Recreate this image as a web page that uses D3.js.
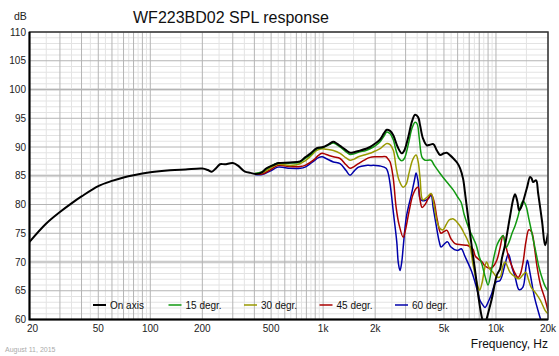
<!DOCTYPE html>
<html><head><meta charset="utf-8">
<script src="https://cdn.jsdelivr.net/npm/d3@7"></script>
<style>body{margin:0;background:#fff}svg{display:block;font-family:Arial,"Liberation Sans",sans-serif}</style>
</head><body><svg id="c" width="559" height="356"></svg>
<script>
const title = "WF223BD02 SPL response";
const seriesNames = ["On axis","15 degr.","30 degr.","45 degr.","60 degr."];
const seriesColors = ["#000000","#119911","#999900","#aa0000","#0000aa"];
const yTicks = [60,65,70,75,80,85,90,95,100,105,110];
const xTickVals = [20,50,100,200,500,1000,2000,5000,10000,20000];
const xTickLabels = ["20","50","100","200","500","1k","2k","5k","10k","20k"];

const onAxis = [[20,73.5],[25,76.7],[30,78.7],[35,80.2],[40,81.4],[50,83.2],[60,84.1],[70,84.7],[80,85.1],[100,85.6],[130,85.95],[160,86.1],[200,86.25],[215,86.0],[227,85.7],[240,86.3],[253,87.0],[270,87.0],[300,87.2],[320,86.8],[353,85.7],[380,85.5],[410,85.3],[443,85.6],[470,86.3],[520,86.9],[550,87.2],[644,87.3],[735,87.5],[786,88.2],[840,88.8],[919,89.8],[1000,90.0],[1080,90.5],[1146,90.9],[1200,90.6],[1253,90.2],[1350,89.5],[1431,89.0],[1510,89.1],[1600,89.3],[1770,89.7],[1869,90.0],[2000,90.6],[2135,91.3],[2250,92.4],[2335,93.0],[2440,92.8],[2549,92.0],[2700,90.0],[2851,88.9],[2950,89.4],[3112,91.8],[3270,94.5],[3404,95.6],[3544,95.2],[3637,93.8],[3780,91.5],[3978,90.3],[4150,90.4],[4343,90.5],[4550,89.4],[4750,88.6],[5000,88.9],[5194,89.0],[5450,88.5],[5670,88.0],[5950,87.3],[6200,86.3],[6450,84.5],[6628,81.9],[6850,78.5],[7085,74.9],[7330,71.5],[7573,68.5],[7914,64.0],[8280,60.4],[8600,58.6],[8850,60.2],[9460,63.6],[10110,67.7],[10564,68.8],[10800,70.5],[11290,73.0],[12070,78.0],[12600,81.0],[12900,81.8],[13300,80.5],[13610,79.0],[13980,79.5],[14355,80.5],[15140,83.0],[15760,84.8],[16100,84.5],[16400,83.9],[17070,84.2],[17530,82.0],[18490,77.0],[19250,72.9],[20000,75.0]];

const deg15 = [[403,85.4],[443,85.7],[493,86.6],[548,87.2],[644,87.2],[735,87.4],[786,88.0],[840,88.6],[919,89.7],[1000,89.9],[1080,90.4],[1146,90.7],[1253,90.0],[1350,89.2],[1431,88.7],[1510,88.8],[1600,89.1],[1770,89.4],[1869,89.7],[2000,90.2],[2135,90.9],[2250,91.9],[2335,92.6],[2440,92.3],[2549,91.2],[2642,89.4],[2750,88.0],[2851,87.6],[2950,88.0],[3112,90.5],[3270,93.3],[3404,94.3],[3500,94.0],[3600,91.5],[3736,88.2],[3889,87.7],[4048,87.7],[4213,87.7],[4400,86.8],[4750,85.4],[5194,83.9],[5670,82.5],[6000,81.3],[6282,80.4],[6538,78.3],[6804,76.7],[7085,75.3],[7373,74.2],[7674,73.0],[7987,71.0],[8312,69.5],[8650,67.5],[9003,66.0],[9370,68.3],[9752,71.0],[10150,73.0],[10564,74.0],[10990,74.6],[11440,72.5],[11910,73.5],[12390,75.0],[12900,76.3],[13430,78.0],[13980,80.0],[14355,80.6],[14900,79.8],[15500,77.5],[16400,74.0],[17070,71.5],[17760,69.0],[18490,67.2],[19240,65.8],[20000,65.0]];

const deg30 = [[403,85.4],[443,85.5],[493,86.3],[548,87.0],[644,86.8],[735,87.1],[786,87.6],[840,88.3],[919,89.4],[986,89.7],[1040,89.6],[1146,89.4],[1253,88.9],[1357,88.1],[1431,87.7],[1510,87.9],[1600,88.3],[1770,88.7],[1869,88.9],[2000,89.3],[2135,89.7],[2250,90.3],[2335,90.6],[2440,90.4],[2549,89.4],[2642,86.5],[2750,84.2],[2901,83.0],[3019,83.5],[3142,85.5],[3300,87.8],[3451,88.6],[3544,87.5],[3637,84.6],[3736,81.0],[3800,80.8],[4000,81.3],[4213,81.9],[4384,79.8],[4563,77.0],[4750,75.8],[4942,75.6],[5150,76.5],[5353,77.3],[5570,77.5],[5800,77.3],[6036,76.7],[6282,76.0],[6538,75.0],[6804,74.0],[7085,72.6],[7373,69.5],[7674,67.0],[7914,65.5],[8050,65.1],[8312,66.4],[8550,68.5],[8820,70.0],[9186,68.8],[9560,68.3],[10110,67.4],[10564,67.4],[10990,69.4],[11290,70.0],[12070,68.2],[12900,67.4],[13610,67.1],[14355,67.8],[14900,68.2],[15400,67.0],[16000,65.6],[17070,64.5],[18100,63.3],[19240,61.6],[20000,61.0]];

const deg45 = [[403,85.3],[443,85.3],[493,86.0],[548,86.8],[644,86.6],[735,86.6],[786,86.8],[886,87.8],[935,88.5],[986,88.9],[1040,88.7],[1146,88.3],[1253,88.0],[1357,86.9],[1431,86.3],[1510,86.6],[1600,87.1],[1772,87.9],[1869,88.2],[2000,88.3],[2135,88.3],[2313,88.3],[2375,87.9],[2440,87.4],[2539,84.8],[2642,79.6],[2750,76.5],[2906,74.3],[2990,75.5],[3142,78.8],[3300,81.6],[3450,82.8],[3544,83.0],[3637,80.8],[3736,79.5],[3889,80.0],[4213,81.8],[4384,80.5],[4563,77.5],[4800,75.0],[5000,75.3],[5200,75.5],[5500,74.0],[5800,73.2],[6300,73.0],[6800,72.9],[7100,72.6],[7373,72.2],[7600,71.0],[7987,70.4],[8312,70.0],[8650,69.3],[9186,68.9],[9560,69.1],[10110,70.3],[10564,72.5],[10990,74.6],[11440,72.6],[11900,70.6],[12390,69.2],[12900,68.0],[13430,67.3],[13800,67.8],[14355,70.0],[14900,73.5],[15500,75.6],[16100,75.2],[16700,72.5],[17300,69.1],[18100,66.0],[19240,63.5],[20000,61.5]];

const deg60 = [[403,85.2],[443,85.2],[493,85.8],[548,86.5],[644,86.3],[735,86.3],[786,86.5],[886,87.6],[935,88.1],[986,88.3],[1040,88.0],[1146,87.4],[1253,87.1],[1357,85.9],[1431,85.1],[1510,85.8],[1600,86.5],[1772,86.8],[1869,86.8],[2000,86.8],[2135,86.7],[2313,86.3],[2375,85.5],[2440,83.6],[2552,78.5],[2667,73.5],[2724,69.8],[2785,68.5],[2850,70.0],[2906,72.6],[3033,77.9],[3250,81.9],[3380,84.3],[3451,85.5],[3544,84.0],[3637,81.0],[3736,80.7],[3889,80.7],[4048,81.0],[4213,81.6],[4330,79.5],[4490,76.7],[4700,73.5],[4810,72.6],[5050,73.2],[5250,73.5],[5490,72.6],[5980,72.0],[6300,72.3],[6610,71.0],[7240,68.3],[7760,65.3],[8090,63.3],[8400,62.5],[8650,62.1],[9000,63.0],[9400,64.3],[10000,66.5],[10564,66.8],[11300,69.7],[11800,71.4],[12400,69.0],[12900,67.4],[13600,65.2],[14300,65.6],[14900,69.0],[15200,70.3],[15760,68.0],[16700,63.9],[17500,61.6],[18400,59.5],[19240,58.5],[20000,58.0]];

const allSeries = [onAxis, deg15, deg30, deg45, deg60];

const svg = d3.select("#c");
const L = 29.5, R = 548, T = 32, B = 319.5;
const x = d3.scaleLog().domain([20,20000]).range([L,R]);
const y = d3.scaleLinear().domain([60,110]).range([B,T]);

// grid
const g = svg.append("g");
const minorX = [], majorX = [];
[10,100,1000,10000].forEach(d=>{
  for(let m=1;m<=9;m++){ const v=m*d; if(v>=20&&v<=20000) majorX.push(v);
    const h=(m+0.5)*d; if(h>20&&h<20000) minorX.push(h);}
});
const minorY = d3.range(60,111,1).filter(v=>v%5!==0);
g.selectAll(".myl").data(minorY).join("line").attr("x1",L).attr("x2",R)
 .attr("y1",d=>y(d)).attr("y2",d=>y(d)).attr("stroke","#e3e3e3").attr("stroke-width",1);
g.selectAll(".mxl").data(minorX).join("line").attr("x1",d=>x(d)).attr("x2",d=>x(d))
 .attr("y1",T).attr("y2",B).attr("stroke","#e3e3e3").attr("stroke-width",1);
g.selectAll(".bands").data([70,85,100]).join("line").attr("x1",L).attr("x2",R)
 .attr("y1",d=>y(d)).attr("y2",d=>y(d)).attr("stroke","#e2e2e2").attr("stroke-width",3);
g.selectAll(".Myl").data(yTicks).join("line").attr("x1",L).attr("x2",R)
 .attr("y1",d=>y(d)).attr("y2",d=>y(d)).attr("stroke","#b4b4b4").attr("stroke-width",1);
g.selectAll(".Mxl").data(majorX).join("line").attr("x1",d=>x(d)).attr("x2",d=>x(d))
 .attr("y1",T).attr("y2",B).attr("stroke","#b4b4b4").attr("stroke-width",1);

// curves
svg.append("clipPath").attr("id","clip").append("rect").attr("x",L).attr("y",T).attr("width",R-L).attr("height",B-T);
const line = d3.line().x(d=>x(d[0])).y(d=>y(d[1])).curve(d3.curveCatmullRom.alpha(0.5));
const cg = svg.append("g").attr("clip-path","url(#clip)");
for(let i=allSeries.length-1;i>=0;i--){
  cg.append("path").attr("d",line(allSeries[i])).attr("fill","none")
   .attr("stroke",seriesColors[i]).attr("stroke-width",i===0?2:1.5).attr("stroke-linejoin","round");
}

// frame
svg.append("rect").attr("x",L).attr("y",T).attr("width",R-L).attr("height",B-T)
 .attr("fill","none").attr("stroke","#333").attr("stroke-width",1.5);
svg.append("path").attr("d",`M${L},${T}V${B}H${R}`).attr("fill","none").attr("stroke","#000").attr("stroke-width",2);

// axis labels
svg.selectAll(".yt").data(yTicks).join("text").attr("x",26).attr("y",d=>y(d)+3.5)
 .attr("text-anchor","end").attr("font-size",10).attr("fill","#222").text(d=>d);
svg.selectAll(".xt").data(xTickVals).join("text").attr("x",(d,i)=>x(d)+(i===0?3:0)).attr("y",332)
 .attr("text-anchor","middle").attr("font-size",10).attr("fill","#222").text((d,i)=>xTickLabels[i]);
svg.append("text").attr("x",14).attr("y",20).attr("font-size",10.5).attr("fill","#222").text("dB");
svg.append("text").attr("x",231).attr("y",22.5).attr("text-anchor","middle").attr("font-size",16).attr("fill","#111").text(title);
svg.append("text").attr("x",548).attr("y",348).attr("text-anchor","end").attr("font-size",12).attr("fill","#111").text("Frequency, Hz");
svg.append("text").attr("x",5).attr("y",351.5).attr("font-size",7).attr("fill","#aaa").text("August 11, 2015");

// legend
const lg = svg.append("g");
seriesNames.forEach((n,i)=>{
  const lx = 93 + i*75.5;
  lg.append("line").attr("x1",lx).attr("x2",lx+13).attr("y1",305).attr("y2",305)
    .attr("stroke",seriesColors[i]).attr("stroke-width",i===0?2:1.5);
  lg.append("text").attr("x",lx+17).attr("y",308.5).attr("font-size",10).attr("fill","#111").text(n);
});
</script></body></html>
